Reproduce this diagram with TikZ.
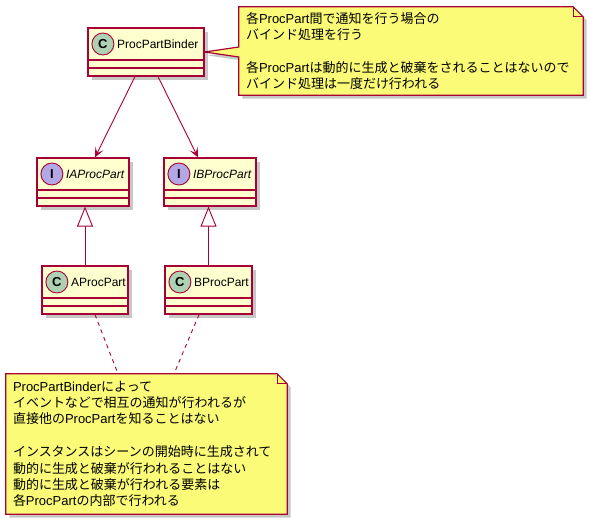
\documentclass[tikz,border=0pt]{standalone}
\usepackage{fontspec}
\setmainfont{Liberation Sans}
\newfontfamily\jp{Noto Sans CJK JP}
\usetikzlibrary{arrows.meta,shadows,backgrounds}
\definecolor{umlred}{HTML}{A80036}
\definecolor{classbg}{HTML}{FEFECE}
\definecolor{notebg}{HTML}{FBFB77}
\definecolor{cgreen}{HTML}{ADD1B2}
\definecolor{ipurple}{HTML}{B4A7E5}
\tikzset{
  classbox/.style={draw=umlred,fill=classbg,line width=1.2pt,minimum height=48pt,inner sep=0pt,
    drop shadow={shadow xshift=3.5pt,shadow yshift=-3.5pt,fill=black,opacity=0.22}},
  sepline/.style={draw=umlred,line width=1.2pt},
  spotc/.style={circle,draw=umlred,line width=0.9pt,minimum size=22pt,inner sep=0pt,
    font=\bfseries\fontsize{13}{13}\selectfont},
  clabel/.style={anchor=west,inner sep=0pt,font=\fontsize{12}{14}\selectfont},
  assoc/.style={draw=umlred,line width=0.9pt,-{Stealth[length=10pt,width=9pt,inset=5pt]}},
  inherit/.style={draw=umlred,line width=0.9pt,-{Triangle[open,length=20pt,width=16pt,fill=white]}},
  dashline/.style={draw=umlred,line width=0.9pt,dash pattern=on 4pt off 4pt},
  notetext/.style={inner xsep=7pt,inner ysep=0pt,align=left,
    font=\fontsize{13}{16.4}\selectfont},
  notefill/.style={fill=notebg,draw=umlred,line width=1.2pt,line join=miter,
    drop shadow={shadow xshift=3.5pt,shadow yshift=-3.5pt,fill=black,opacity=0.22}},
}
\newcommand\UmlClass[8]{%
  \node[classbox,minimum width=#4] (#1) at (#2,#3) {};
  \draw[sepline] ([yshift=-8pt]#1.west) -- ([yshift=-8pt]#1.east);
  \draw[sepline] ([yshift=-16pt]#1.west) -- ([yshift=-16pt]#1.east);
  \node[spotc,fill=#6] (#1-c) at ([xshift=15.5pt,yshift=8pt]#1.west) {#5};
  \node[clabel] (#1-l) at ([xshift=29.5pt,yshift=8pt]#1.west) {#8#7};
}
\begin{document}
\begin{tikzpicture}[x=1pt,y=-1pt]
\useasboundingbox (0,0) rectangle (590,520);

\UmlClass{binder}{146}{52}{116pt}{C}{cgreen}{ProcPartBinder}{}
\UmlClass{ia}{83}{182}{92pt}{I}{ipurple}{IAProcPart}{\itshape}
\UmlClass{ib}{210}{182}{92pt}{I}{ipurple}{IBProcPart}{\itshape}
\UmlClass{ap}{85}{290}{86pt}{C}{cgreen}{AProcPart}{}
\UmlClass{bp}{208.5}{290}{87pt}{C}{cgreen}{BProcPart}{}

\node[notetext,text width=330pt,minimum width=344pt,minimum height=88pt] (n1) at (411,51) {%
{\jp 各}ProcPart{\jp 間で通知を行う場合の}\\
{\jp バインド処理を行う}\\[16.4pt]
{\jp 各}ProcPart{\jp は動的に生成と破棄をされることはないので}\\
{\jp バインド処理は一度だけ行われる}};

\node[notetext,text width=267pt,minimum width=281pt,minimum height=140pt] (n2) at (146.5,444) {%
ProcPartBinder{\jp によって}\\
{\jp イベントなどで相互の通知が行われるが}\\
{\jp 直接他の}ProcPart{\jp を知ることはない}\\[16.4pt]
{\jp インスタンスはシーンの開始時に生成されて}\\
{\jp 動的に生成と破棄が行われることはない}\\
{\jp 動的に生成と破棄が行われる要素は}\\
{\jp 各}ProcPart{\jp の内部で行われる}};

\begin{scope}[on background layer]
  \path[notefill] (n1.north west) -- ([xshift=-10pt]n1.north east) -- ([yshift=-10pt]n1.north east)
    -- (n1.south east) -- (n1.south west) -- ([yshift=-6pt]n1.west) -- (binder.east)
    -- ([yshift=4pt]n1.west) -- cycle;
  \path[notefill] (n2.north west) -- ([xshift=-10pt]n2.north east) -- ([yshift=-10pt]n2.north east)
    -- (n2.south east) -- (n2.south west) -- cycle;
\end{scope}
\draw[umlred,line width=1pt] ([xshift=-10pt]n1.north east) -- ([xshift=-10pt,yshift=-10pt]n1.north east) -- ([yshift=-10pt]n1.north east);
\draw[umlred,line width=1pt] ([xshift=-10pt]n2.north east) -- ([xshift=-10pt,yshift=-10pt]n2.north east) -- ([yshift=-10pt]n2.north east);

\draw[assoc] ([xshift=-11pt]binder.south) -- ([xshift=12pt]ia.north);
\draw[assoc] ([xshift=12pt]binder.south) -- ([xshift=-12pt]ib.north);
\draw[inherit] (ap.north) -- (ap.north |- ia.south);
\draw[inherit] (bp.north) -- (bp.north |- ib.south);
\draw[dashline] ([xshift=10pt]ap.south) -- ([xshift=-28.5pt]n2.north);
\draw[dashline] ([xshift=-9.5pt]bp.south) -- ([xshift=27.5pt]n2.north);
\end{tikzpicture}
\end{document}
